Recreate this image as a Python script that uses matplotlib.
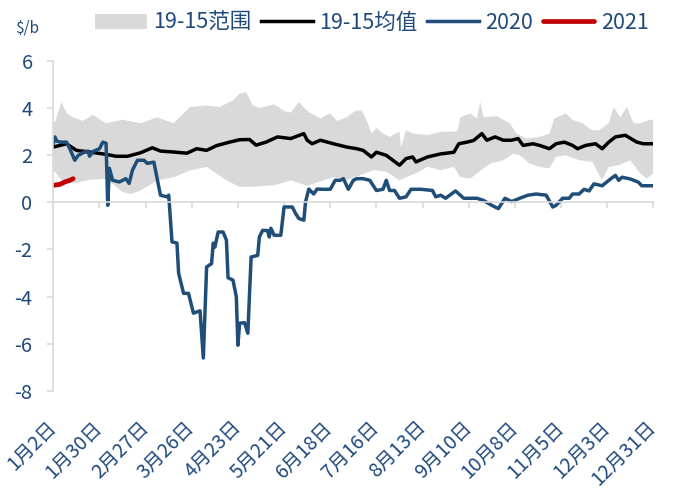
import numpy as np
import matplotlib
matplotlib.use("Agg")
import matplotlib.pyplot as plt

plt.rcParams['font.family'] = ['Noto Sans CJK SC', 'DejaVu Sans']
plt.rcParams['axes.unicode_minus'] = False

# --- Data (days counted from Jan 2) ---
tick_days = [0, 28, 56, 84, 112, 140, 168, 196, 224, 252, 280, 308, 336, 364]
tick_labels = ["1月2日", "1月30日", "2月27日", "3月26日", "4月23日", "5月21日", "6月18日",
               "7月16日", "8月13日", "9月10日", "10月8日", "11月5日", "12月3日", "12月31日"]

hi_days = [0, 1, 5, 8, 12, 18, 24, 32, 42, 53, 63, 73, 79, 83, 93, 101, 109, 113, 117, 121,
           125, 134, 140, 144, 149, 154, 162, 168, 172, 178, 183, 187, 190, 193, 196, 200,
           204, 210, 211, 214, 218, 227, 235, 243, 245, 247, 253, 257, 259, 261, 269, 277,
           281, 287, 295, 301, 304, 311, 315, 321, 327, 331, 337, 340, 344, 348, 352, 356,
           362, 364]
hi_vals = [3.4, 3.4, 4.25, 3.77, 3.6, 3.45, 3.7, 3.35, 3.5, 3.35, 3.6, 3.35, 3.77, 4.04, 4.1,
           4.04, 4.32, 4.6, 4.67, 4.11, 4.0, 4.15, 3.87, 3.8, 4.25, 3.87, 3.55, 3.77, 3.45,
           3.6, 3.87, 3.9, 3.5, 2.92, 3.15, 2.92, 2.77, 3.0, 2.34, 3.05, 2.92, 2.85, 2.98,
           3.0, 3.0, 3.6, 3.77, 3.55, 4.25, 3.6, 3.65, 3.35, 2.91, 2.7, 2.77, 2.91, 3.55,
           3.77, 3.5, 3.35, 3.05, 3.05, 3.35, 4.04, 3.6, 4.04, 3.35, 3.35, 3.5, 3.5]

lo_days = [0, 5, 12, 22, 32, 42, 47, 53, 63, 73, 83, 93, 105, 113, 121, 134, 144, 154, 164,
           170, 178, 186, 194, 202, 210, 214, 220, 227, 235, 243, 247, 253, 257, 265, 273,
           279, 283, 289, 295, 301, 305, 311, 319, 327, 333, 337, 343, 350, 356, 360, 364]
lo_vals = [1.36, 0.93, 0.8, 0.95, 1.0, 0.44, 0.35, 0.5, 0.93, 1.06, 1.35, 1.5, 0.93, 0.65,
           0.66, 0.72, 0.93, 0.7, 0.93, 1.06, 0.95, 1.14, 1.36, 1.3, 0.93, 1.06, 1.23, 1.5,
           1.36, 1.5, 1.06, 1.0, 1.23, 1.64, 1.78, 2.06, 1.99, 1.64, 1.5, 1.44, 1.93, 1.99,
           1.78, 1.71, 0.93, 1.5, 1.57, 1.78, 1.23, 1.0, 1.23]

avg_days = [0, 8, 14, 22, 32, 38, 45, 53, 60, 65, 73, 81, 87, 93, 99, 107, 113, 119, 123,
            129, 136, 144, 152, 154, 157, 162, 170, 178, 184, 188, 193, 196, 202, 206, 210,
            214, 218, 220, 227, 235, 243, 246, 251, 255, 260, 263, 268, 273, 278, 282, 285,
            291, 295, 301, 305, 310, 315, 318, 323, 329, 333, 337, 341, 347, 354, 358, 361,
            364]
avg_vals = [2.34, 2.48, 2.2, 2.13, 2.03, 1.95, 1.95, 2.1, 2.31, 2.17, 2.13, 2.08, 2.27, 2.2,
            2.4, 2.55, 2.65, 2.66, 2.42, 2.55, 2.77, 2.7, 2.91, 2.63, 2.48, 2.63, 2.48, 2.34,
            2.27, 2.2, 1.92, 2.12, 1.99, 1.78, 1.57, 1.85, 1.92, 1.71, 1.92, 2.05, 2.12, 2.48,
            2.55, 2.62, 2.91, 2.63, 2.77, 2.63, 2.63, 2.7, 2.41, 2.48, 2.41, 2.27, 2.48, 2.55,
            2.41, 2.27, 2.41, 2.48, 2.27, 2.55, 2.77, 2.84, 2.55, 2.48, 2.48, 2.48]

y2020_days = [0, 1, 2, 4, 8, 10, 13, 15, 18, 21, 22, 24, 28, 30, 32, 33, 34, 36, 40, 44, 46,
              48, 51, 55, 57, 61, 63, 65, 69, 70, 72, 75, 76, 79, 82, 85, 89, 91, 93, 96, 97,
              98, 100, 103, 105, 106, 109, 111, 112, 113, 116, 118, 120, 124, 125, 127, 130,
              131, 132, 134, 138, 140, 145, 147, 149, 152, 153, 155, 158, 160, 164, 168, 171,
              174, 176, 179, 182, 184, 188, 192, 196, 200, 202, 204, 207, 210, 214, 217, 223,
              230, 232, 235, 238, 244, 249, 257, 261, 266, 270, 274, 278, 283, 288, 293, 299,
              303, 305, 309, 313, 315, 319, 322, 325, 328, 333, 337, 341, 343, 345, 350, 355,
              357, 364]
y2020_vals = [2.5, 2.77, 2.6, 2.55, 2.55, 2.27, 1.78, 1.98, 2.1, 2.17, 1.95, 2.15, 2.27,
              2.55, 2.5, -0.13, 1.44, 0.93, 0.86, 1.0, 0.8, 1.36, 1.78, 1.78, 1.65, 1.7, 1.0,
              0.3, 0.23, 0.3, -1.68, -1.73, -3.0, -3.86, -3.86, -4.7, -4.6, -6.6, -2.74, -2.6,
              -1.73, -1.9, -1.26, -1.26, -1.6, -3.2, -3.3, -4.0, -6.06, -5.13, -5.1, -5.55,
              -2.32, -2.25, -1.47, -1.19, -1.2, -1.47, -1.1, -1.4, -1.4, -0.2, -0.2, -0.48,
              -0.69, -0.76, 0.01, 0.56, 0.35, 0.56, 0.55, 0.55, 0.93, 0.93, 1.0, 0.55, 0.93,
              1.0, 1.0, 0.93, 0.5, 0.55, 0.93, 0.5, 0.5, 0.17, 0.23, 0.55, 0.55, 0.5, 0.23,
              0.3, 0.17, 0.48, 0.17, 0.17, 0.08, -0.13, -0.27, 0.17, 0.03, 0.17, 0.3, 0.35,
              0.3, -0.2, -0.13, 0.17, 0.17, 0.35, 0.35, 0.55, 0.48, 0.78, 0.7, 0.93, 1.14,
              0.93, 1.06, 0.99, 0.85, 0.7, 0.7]

y2021_days = [0, 4, 7, 10, 12]
y2021_vals = [0.72, 0.76, 0.86, 0.93, 1.0]

TXT = '#1F497D'
BLUE = '#1F4E79'
RED = '#C00000'
BAND = '#D9D9D9'
GRID = '#D9D9D9'

fig = plt.figure(figsize=(6.76, 4.90), dpi=100)
ax = fig.add_axes([0.0789, 0.2020, 0.8875, 0.6741])

ax.fill(np.concatenate([hi_days, lo_days[::-1]]),
        np.concatenate([hi_vals, lo_vals[::-1]]),
        color=BAND, lw=0, label='19-15范围')
ax.plot(avg_days, avg_vals, color='black', lw=2.5, label='19-15均值')
ax.plot(y2020_days, y2020_vals, color=BLUE, lw=2.5, label='2020')
ax.plot(y2021_days, y2021_vals, color=RED, lw=3.4, solid_capstyle='round', label='2021')

ax.set_xlim(0, 364)
ax.set_ylim(-8, 6)
ax.set_yticks(range(-8, 7, 2))

for s in ['top', 'right']:
    ax.spines[s].set_visible(False)
ax.spines['left'].set_color(GRID)
ax.spines['bottom'].set_color(GRID)
ax.spines['bottom'].set_position(('data', 0))
ax.spines['left'].set_linewidth(1.2)
ax.spines['bottom'].set_linewidth(1.2)

ax.set_xticks(tick_days)
ax.tick_params(axis='x', labelbottom=False, direction='out', length=4, color=GRID, width=1.2)
ax.tick_params(axis='y', direction='out', length=4, color=GRID, width=1.2,
               labelsize=14.5, labelcolor=TXT, pad=11)

# date labels sit at the bottom of the plot, not on the zero line
sec = ax.secondary_xaxis('bottom')
sec.set_xticks(tick_days, tick_labels)
sec.spines['bottom'].set_visible(False)
sec.tick_params(length=0, labelsize=14, labelcolor=TXT, pad=24)
plt.setp(sec.get_xticklabels(), rotation=45, ha='right', va='center', rotation_mode='anchor')

fig.text(15 / 676, 1 - 28 / 490, '$/b', color=TXT, fontsize=11, ha='left', va='center')

fig.legend(loc='center', bbox_to_anchor=(0.55, 0.953), ncol=4, frameon=False,
           fontsize=15.5, labelcolor=TXT, handlelength=2.4, handletextpad=0.3,
           columnspacing=0.45, borderpad=0)

fig.savefig('out.png', dpi=100)
